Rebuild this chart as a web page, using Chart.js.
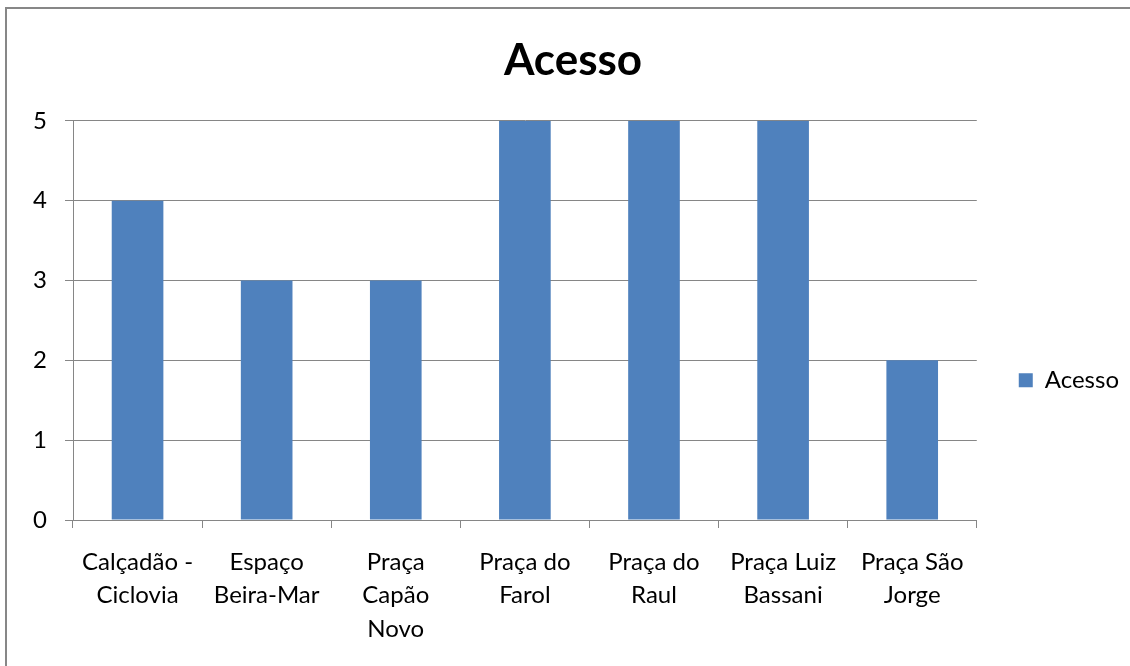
<!DOCTYPE html>
<html>
<head>
<meta charset="utf-8">
<script src="https://cdn.jsdelivr.net/npm/chart.js@4"></script>
<style>
  body { margin: 0; background: #fff; }
  #moldura { position: absolute; left: 5px; top: 7px; width: 1200px; height: 700px; border: 2px solid #878787; }
  canvas { position: absolute; left: 0; top: 0; }
</style>
</head>
<body>
<div id="moldura"></div>
<canvas id="graficoAcesso" width="1130" height="666"></canvas>
<script>
var locais = [
    ["Calçadão -", "Ciclovia"],
    ["Espaço", "Beira-Mar"],
    ["Praça", "Capão", "Novo"],
    ["Praça do", "Farol"],
    ["Praça do", "Raul"],
    ["Praça Luiz", "Bassani"],
    ["Praça São", "Jorge"]
]
var acesso = [4, 3, 3, 5, 5, 5, 2]
var escalaY = [0, 1, 2, 3, 4, 5]

var fonte = "Lato, 'Open Sans', sans-serif"
var cinza = "#868686"

var canvas = document.getElementById("graficoAcesso")

var graficoAcesso = new Chart(canvas, {
    type: 'bar',
    data: {
        labels: locais,
        datasets: [{
            label: 'Acesso',
            data: acesso,
            backgroundColor: '#4F81BD',
            borderWidth: 0,
            barPercentage: 0.4,
            categoryPercentage: 1
        }]
    },
    options: {
        responsive: false,
        animation: false,
        devicePixelRatio: 1,
        layout: {
            padding: { left: 17, right: 1, top: 0, bottom: 0 }
        },
        plugins: {
            title: {
                display: true,
                text: 'Acesso',
                color: '#000',
                font: { family: fonte, size: 44, weight: 'bold' },
                padding: { top: 34, bottom: 34 }
            },
            legend: {
                position: 'right',
                title: {
                    // titulo vazio so pra empurrar o item pra baixo
                    display: true,
                    text: '',
                    font: { size: 12 },
                    padding: { top: 40, bottom: 40 }
                },
                labels: {
                    color: '#000',
                    font: { family: fonte, size: 24 },
                    boxWidth: 14,
                    boxHeight: 14,
                    padding: 42
                }
            },
            tooltip: { enabled: false }
        },
        scales: {
            x: {
                afterFit: function (s) { s.height = 146 },
                grid: {
                    display: true,
                    drawOnChartArea: false,
                    offset: true,
                    color: cinza,
                    tickLength: 8
                },
                border: { display: true, color: cinza },
                ticks: {
                    color: '#000',
                    padding: 18,
                    maxRotation: 0,
                    autoSkip: false,
                    font: { family: fonte, size: 24, lineHeight: 1.38 }
                }
            },
            y: {
                min: 0,
                max: escalaY[escalaY.length - 1],
                afterFit: function (s) { s.width = 56 },
                afterBuildTicks: function (s) {
                    s.ticks = escalaY.map(function (v) { return { value: v } })
                },
                grid: {
                    color: cinza,
                    tickLength: 8
                },
                border: { display: true, color: cinza },
                ticks: {
                    color: '#000',
                    padding: 18,
                    font: { family: fonte, size: 24 }
                }
            }
        }
    }
})
</script>
</body>
</html>
